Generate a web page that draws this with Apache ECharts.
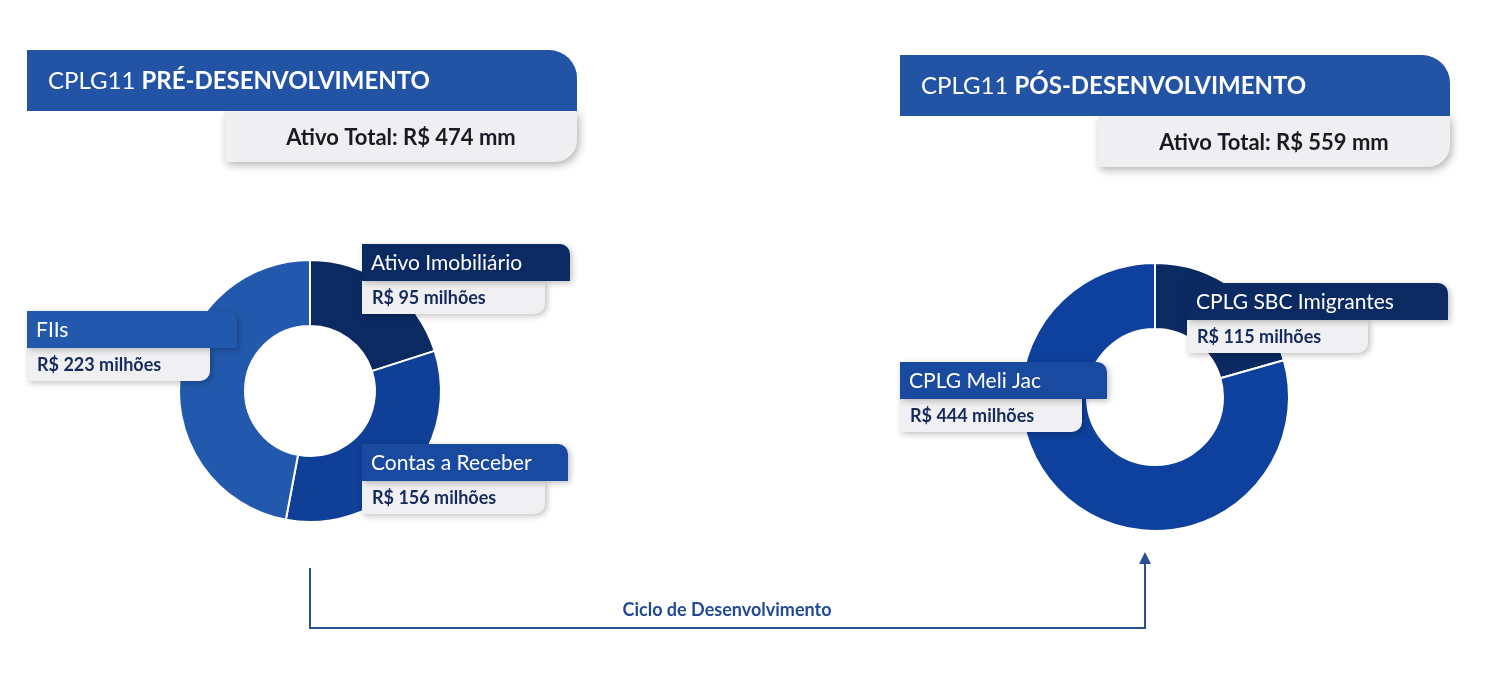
<!DOCTYPE html>
<html><head><meta charset="utf-8">
<script src="https://cdn.jsdelivr.net/npm/echarts@6/dist/echarts.min.js"></script>
<style>html,body{margin:0;padding:0;background:#fff}#chart{width:1512px;height:680px}</style>
</head><body><div id="chart"></div>
<script>
var preNames = ['Ativo Imobiliário', 'Contas a Receber', 'FIIs'];
var preValues = [95, 156, 223];
var preColors = ['#0c2a62', '#0f3f96', '#2359ad'];
var posNames = ['CPLG SBC Imigrantes', 'CPLG Meli Jac'];
var posValues = [115, 444];
var posColors = ['#0c2a62', '#0e419d'];
var preTotal = 474, posTotal = 559;

var FONT = 'Lato, "Open Sans", sans-serif';
var chart = echarts.init(document.getElementById('chart'));

function pieData(names, values, colors) {
  return names.map(function (n, i) { return {name: n, value: values[i], itemStyle: {color: colors[i]}}; });
}

// label box: coloured title bar + grey value bar
function labelBox(x, y, w1, w2, color, title, value) {
  return [
    {type: 'rect', z: 100, shape: {x: x, y: y + 37, width: w2, height: 33, r: [0, 0, 10, 0]},
      style: {fill: '#f0f0f2', shadowBlur: 6, shadowColor: 'rgba(0,0,0,0.25)', shadowOffsetX: 2, shadowOffsetY: 2}},
    {type: 'rect', z: 101, shape: {x: x, y: y, width: w1, height: 37, r: [0, 10, 0, 0]},
      style: {fill: color, shadowBlur: 6, shadowColor: 'rgba(0,0,0,0.25)', shadowOffsetX: 2, shadowOffsetY: 2}},
    {type: 'text', z: 102, x: x + 9, y: y + 19, style: {text: title, fill: '#fff', font: '21px ' + FONT, verticalAlign: 'middle'}},
    {type: 'text', z: 102, x: x + 10, y: y + 54, style: {text: 'R$ ' + value + ' milhões', fill: '#142a5c', font: 'bold 18px ' + FONT, verticalAlign: 'middle'}}
  ];
}

function header(x, y, title, total) {
  return [
    {type: 'rect', shape: {x: x + 198, y: y + 61, width: 352, height: 51, r: [0, 0, 22, 0]},
      style: {fill: '#efeff1', shadowBlur: 8, shadowColor: 'rgba(0,0,0,0.3)', shadowOffsetX: 2, shadowOffsetY: 3}},
    {type: 'rect', shape: {x: x, y: y, width: 550, height: 61, r: [0, 28, 0, 0]}, style: {fill: '#2253a4'}},
    {type: 'text', x: x + 21, y: y + 31, style: {rich: {a: {fill: '#fff', font: '24px ' + FONT}, b: {fill: '#fff', font: 'bold 24px ' + FONT}},
      text: '{a|CPLG11 }{b|' + title + '}', verticalAlign: 'middle'}},
    {type: 'text', x: x + 374, y: y + 88, style: {text: 'Ativo Total: R$ ' + total + ' mm', fill: '#1a1a24', font: 'bold 22px ' + FONT, align: 'center', verticalAlign: 'middle'}}
  ];
}

var graphics = [].concat(
  header(27, 50, 'PRÉ-DESENVOLVIMENTO', preTotal),
  header(900, 55, 'PÓS-DESENVOLVIMENTO', posTotal),
  labelBox(362, 244, 208, 183, preColors[0], preNames[0], preValues[0]),
  labelBox(362, 444, 206, 183, '#1a4aa0', preNames[1], preValues[1]),
  labelBox(27, 311, 210, 183, preColors[2], preNames[2], preValues[2]),
  labelBox(1187, 283, 261, 181, posColors[0], posNames[0], posValues[0]),
  labelBox(900, 362, 207, 182, '#1a4aa0', posNames[1], posValues[1]),
  [
    {type: 'polyline', shape: {points: [[310, 568], [310, 628], [1145, 628], [1145, 562]]},
      style: {stroke: '#2a4f96', lineWidth: 2, fill: null}},
    {type: 'polygon', shape: {points: [[1139, 564], [1151, 564], [1145, 552]]}, style: {fill: '#2a4f96'}},
    {type: 'text', x: 727, y: 610, style: {text: 'Ciclo de Desenvolvimento', fill: '#1f4a94', font: 'bold 18px ' + FONT, align: 'center', verticalAlign: 'middle'}}
  ]
);

chart.setOption({
  backgroundColor: '#fff',
  animation: false,
  series: [
    {type: 'pie', center: [310, 391], radius: [65, 131], startAngle: 90, clockwise: true, z: 1,
      label: {show: false}, labelLine: {show: false},
      itemStyle: {borderColor: '#fff', borderWidth: 2},
      data: pieData(preNames, preValues, preColors)},
    {type: 'pie', center: [1155, 397], radius: [68, 134], startAngle: 90, clockwise: true, z: 1,
      label: {show: false}, labelLine: {show: false},
      itemStyle: {borderColor: '#fff', borderWidth: 2},
      data: pieData(posNames, posValues, posColors)}
  ],
  graphic: graphics
});
</script></body></html>
